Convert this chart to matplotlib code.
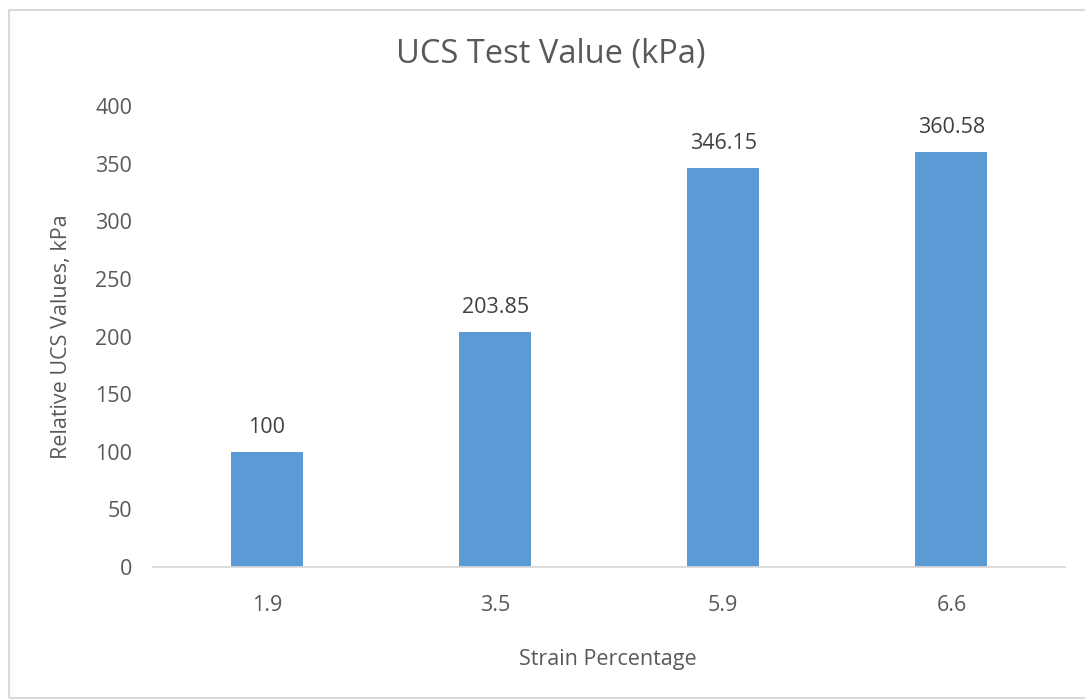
import matplotlib.pyplot as plt
import numpy as np
from matplotlib.patches import Rectangle

# === DATA ===
strain = ['1.9', '3.5', '5.9', '6.6']
ucs_values = [100, 203.85, 346.15, 360.58]
value_labels = ['100', '203.85', '346.15', '360.58']

# === STYLE ===
BAR_COLOR = "#5B9BD5"
TEXT_COLOR = "#595959"
AXIS_COLOR = "#D9D9D9"
plt.rcParams['font.family'] = ['Open Sans', 'DejaVu Sans']

W, H = 1085, 699
fig = plt.figure(figsize=(W / 100, H / 100), dpi=100)
ax = fig.add_axes([0.141, 0.189, 0.841, 0.659])

x = np.arange(len(strain))
ax.bar(x, ucs_values, width=0.315, color=BAR_COLOR)

for i, (v, lab) in enumerate(zip(ucs_values, value_labels)):
    ax.annotate(lab, xy=(i, v), xytext=(0, 10), textcoords='offset points',
                ha='center', va='bottom', fontsize=15.5, color='#404040')

ax.set_xlim(-0.5, len(strain) - 0.5)
ax.set_ylim(0, 400)
ax.set_yticks(np.arange(0, 401, 50))
ax.set_xticks(x)
ax.set_xticklabels(strain)
ax.tick_params(axis='both', length=0, labelsize=15.5, labelcolor=TEXT_COLOR)
ax.tick_params(axis='y', pad=15)
ax.tick_params(axis='x', pad=20)

for side in ['top', 'right', 'left']:
    ax.spines[side].set_visible(False)
ax.spines['bottom'].set_color(AXIS_COLOR)
ax.spines['bottom'].set_linewidth(1.3)

# title and axis titles placed like the spreadsheet chart
fig.text(551 / W, 1 - 55 / H, "UCS Test Value (kPa)", fontsize=23.5,
         color=TEXT_COLOR, ha='center', va='center')
fig.text(608 / W, 1 - 659 / H, "Strain Percentage", fontsize=15.5,
         color=TEXT_COLOR, ha='center', va='center')
fig.text(62 / W, 1 - 337 / H, "Relative UCS Values, kPa", fontsize=15.5,
         color=TEXT_COLOR, ha='center', va='center', rotation=90)

# outer chart border
fig.patches.append(Rectangle((9 / W, 0.002), 1.0, (H - 10) / H - 0.002,
                             transform=fig.transFigure, fill=False,
                             edgecolor=AXIS_COLOR, linewidth=1.5))

fig.savefig("out.png", dpi=100, facecolor='white')
